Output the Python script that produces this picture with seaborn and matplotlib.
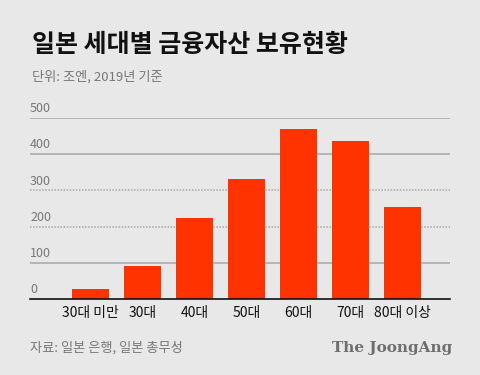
import matplotlib
matplotlib.use("Agg")
import matplotlib.pyplot as plt
import seaborn as sns
import pandas as pd

categories = ["30대 미만", "30대", "40대", "50대", "60대", "70대", "80대 이상"]
values = [28, 92, 225, 331, 469, 437, 253]
yticks = [0, 100, 200, 300, 400, 500]

title = "일본 세대별 금융자산 보유현황"
subtitle = "단위: 조엔, 2019년 기준"
source = "자료: 일본 은행, 일본 총무성"
brand = "The JoongAng"

BG = "#e8e8e8"
BAR = "#ff3300"

sns.set_theme(style="white")
plt.rcParams["font.family"] = ["Noto Sans CJK KR", "DejaVu Sans"]

df = pd.DataFrame({"cat": categories, "val": values})

fig = plt.figure(figsize=(4.8, 3.75), dpi=100, facecolor=BG)
ax = fig.add_axes([30/480, 1 - 299/375, 420/480, (299 - 118)/375])
ax.set_facecolor(BG)

sns.barplot(data=df, x="cat", y="val", color=BAR, width=0.71, saturation=1,
            linewidth=0, edgecolor=BAR, ax=ax, zorder=3)

ax.set_xlim(-1.16, 6.91)
ax.set_ylim(0, 500)
ax.set_xlabel("")
ax.set_ylabel("")
for s in ["top", "right", "left"]:
    ax.spines[s].set_visible(False)
ax.spines["bottom"].set_color("#111111")
ax.spines["bottom"].set_linewidth(1.2)
ax.spines["bottom"].set_zorder(4)

for v in yticks[1:]:
    ls = (0, (1, 1)) if v in (200, 300) else "-"
    ax.axhline(v, color="#a8a8a8", lw=1.1, ls=ls, zorder=1)

ax.set_yticks([])
for v in yticks:
    ax.text(-1.16, v + 8, str(v), ha="left", va="bottom", fontsize=9,
            color="#777777", zorder=5)

ax.tick_params(axis="x", length=0, pad=5, labelsize=10, labelcolor="#111111")

fig.text(32/480, 1 - 45/375, title, fontsize=18, fontweight="heavy",
         color="#111111", va="center", ha="left")
fig.text(32/480, 1 - 77/375, subtitle, fontsize=9.5, color="#777777",
         va="center", ha="left")
fig.text(30/480, 1 - 348/375, source, fontsize=9.5, color="#777777",
         va="center", ha="left")
fig.text(452/480, 1 - 348/375, brand, fontsize=11, fontweight="bold",
         color="#6e6e6e", va="center", ha="right", family="DejaVu Serif")

fig.savefig("out.png", dpi=100, facecolor=BG)
